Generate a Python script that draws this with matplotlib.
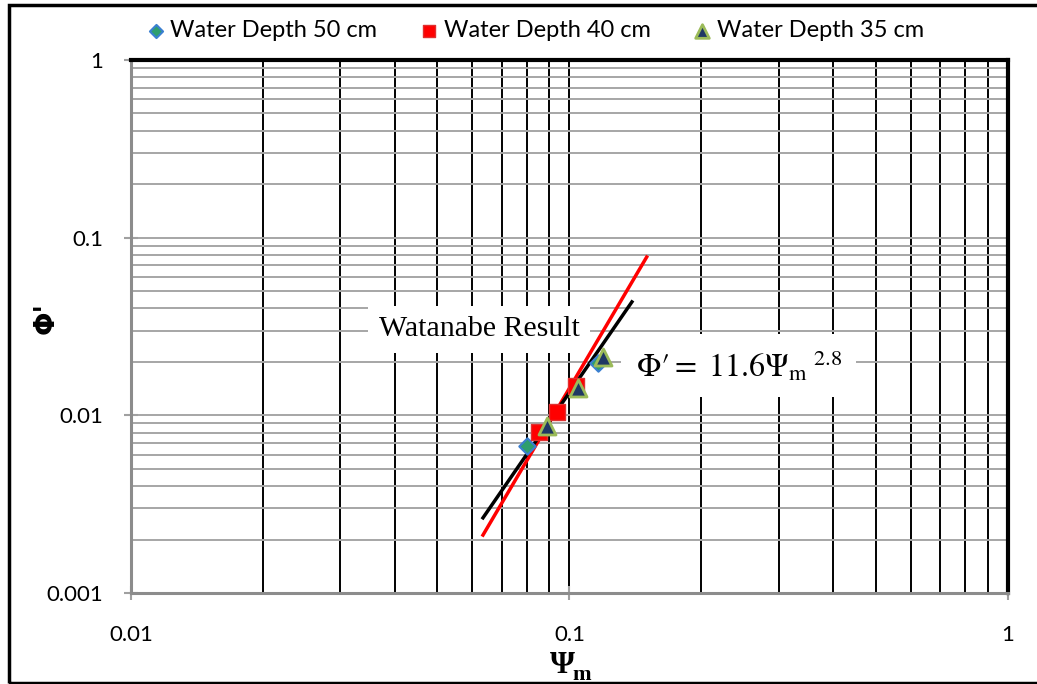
import matplotlib.pyplot as plt
from matplotlib.patches import Rectangle
from matplotlib.ticker import LogLocator, FixedLocator, NullFormatter
import numpy as np

# measured dimensionless parameters for each water depth
psi_50 = [0.080, 0.116]
phi_50 = [0.00673, 0.0197]

psi_40 = [0.0851, 0.0937, 0.1035]
phi_40 = [0.00807, 0.01045, 0.0146]

psi_35 = [0.0889, 0.1045, 0.1193]
phi_35 = [0.00872, 0.0143, 0.0213]

# fitted trend lines (end points)
fit_psi = [0.0635, 0.150]
fit_phi = [0.00212, 0.0778]
wat_psi = [0.0635, 0.1388]
wat_phi = [0.00265, 0.0435]

plt.rcParams['font.family'] = ['Lato', 'DejaVu Sans']
plt.rcParams['mathtext.fontset'] = 'stix'

fig = plt.figure(figsize=(10.37, 6.84), dpi=100)
ax = fig.add_axes([0.1263, 0.133, 0.8457, 0.7793])

ax.set_xscale('log')
ax.set_yscale('log')
ax.set_xlim(0.01, 1)
ax.set_ylim(0.001, 1)

# grid: black verticals, grey horizontals
ax.xaxis.set_minor_locator(LogLocator(base=10, subs=np.arange(2, 10)))
ax.yaxis.set_minor_locator(LogLocator(base=10, subs=np.arange(2, 10)))
ax.xaxis.set_minor_formatter(NullFormatter())
ax.yaxis.set_minor_formatter(NullFormatter())
ax.grid(True, axis='x', which='both', color='black', lw=1.4, zorder=0)
ax.grid(True, axis='y', which='both', color='#a6a6a6', lw=1.4, zorder=0)
ax.set_axisbelow(True)

ax.xaxis.set_major_locator(FixedLocator([0.01, 0.1, 1]))
ax.yaxis.set_major_locator(FixedLocator([0.001, 0.01, 0.1, 1]))
ax.set_xticklabels(['0.01', '0.1', '1'])
ax.set_yticklabels(['0.001', '0.01', '0.1', '1'])
ax.tick_params(which='major', direction='inout', length=10, width=1.5,
               color='#a0a0a0', labelsize=16)
ax.tick_params(axis='x', pad=18)
ax.tick_params(axis='y', pad=15)
ax.tick_params(which='minor', length=0)

for side in ['left', 'bottom']:
    ax.spines[side].set_color('#8c8c8c')
    ax.spines[side].set_linewidth(2.2)
for side in ['top', 'right']:
    ax.spines[side].set_color('black')
    ax.spines[side].set_linewidth(3)

ax.plot(fit_psi, fit_phi, color='#ff0000', lw=2.5, zorder=3)
ax.plot(wat_psi, wat_phi, color='black', lw=2.5, zorder=3)

ax.scatter(psi_50, phi_50, marker='D', s=70, color='#2e9e6e',
           edgecolors='#3a7fd0', lw=1.5, zorder=4, label='Water Depth 50 cm')
ax.scatter(psi_40, phi_40, marker='s', s=130, color='#ff0000',
           edgecolors='#e03030', lw=1, zorder=4, label='Water Depth 40 cm')
ax.scatter(psi_35, phi_35, marker='^', s=150, color='#1f3864',
           edgecolors='#9bbb59', lw=2, zorder=5, label='Water Depth 35 cm')

ax.text(0.0622, 0.0305, 'Watanabe Result', family='Liberation Serif',
        fontsize=21.5, ha='center', va='center', zorder=2,
        bbox=dict(boxstyle='square,pad=0.35', fc='white', ec='none'))

ax.text(0.1415, 0.0191, r"$\Phi\prime =\ 11.6\Psi_{\mathrm{m}}{}^{\ 2.8}$",
        fontsize=23, ha='left', va='center', zorder=2,
        bbox=dict(boxstyle='square,pad=0.45', fc='white', ec='none'))

# axis titles
fig.text(0.542, 0.016, 'Ψ', family='Liberation Serif', weight='bold',
         fontsize=23, ha='center', va='baseline')
fig.text(0.561, 0.006, 'm', family='Liberation Serif', weight='bold',
         fontsize=16, ha='center', va='baseline')
fig.text(0.044, 0.535, "Φ'", family='DejaVu Sans', weight='bold',
         fontsize=20, rotation=90, ha='center', va='center')

fig.legend(loc='center', bbox_to_anchor=(0.515, 0.955), ncol=3,
           frameon=False, fontsize=17, handletextpad=0.1, columnspacing=1.7,
           handlelength=1.0, scatterpoints=1, markerscale=0.8)

# outer frame around the whole chart
fig.add_artist(Rectangle((0.0085, 0.0015), 0.995, 0.9915, transform=fig.transFigure,
                         fill=False, ec='black', lw=2.5))

fig.savefig('out.png', dpi=100)
